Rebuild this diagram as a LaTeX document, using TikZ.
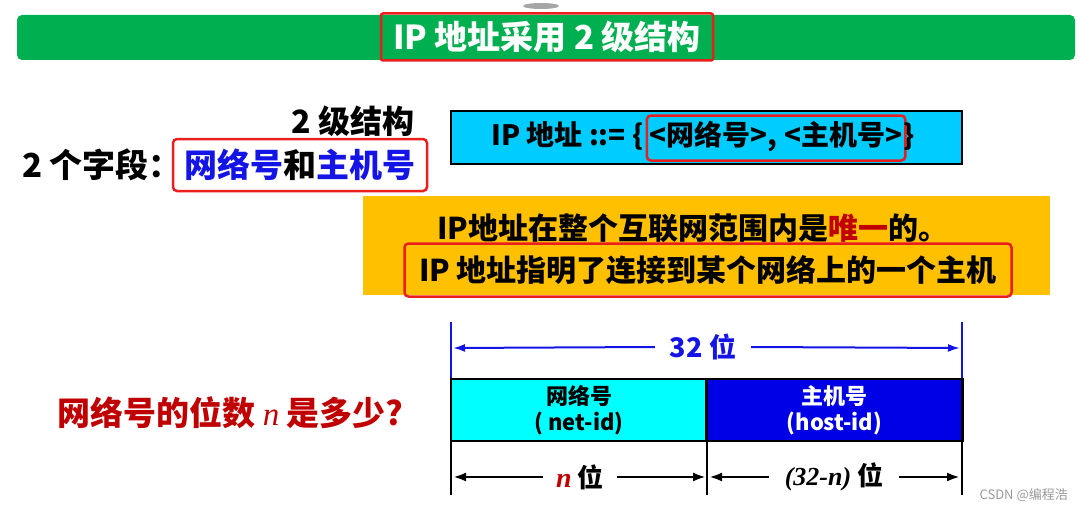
\documentclass[tikz,border=0pt]{standalone}
\usepackage{fontspec}
\setmainfont{Noto Sans CJK SC}
\newfontfamily\tnr{Liberation Serif}
\usetikzlibrary{arrows.meta,positioning}
\definecolor{titlegreen}{RGB}{0,176,80}
\definecolor{hired}{RGB}{235,30,30}
\definecolor{defcyan}{RGB}{0,204,255}
\definecolor{fieldcyan}{RGB}{0,255,255}
\definecolor{fieldblue}{RGB}{0,0,230}
\definecolor{notegold}{RGB}{255,192,0}
\definecolor{darkred}{RGB}{192,0,0}
\definecolor{textblue}{RGB}{20,20,230}
\tikzset{
  fs/.style={font=\fontsize{#1}{#1}\selectfont\bfseries},
  redbox/.style={draw=hired, line width=2.5pt, rounded corners=4pt},
  fieldbox/.style={draw=black, line width=2.5pt, minimum width=256pt, minimum height=62pt, align=center, inner sep=0pt, font=\fontsize{22}{29}\selectfont\bfseries},
  barr/.style={draw=textblue, line width=2pt, -{Latex[length=12pt,width=8pt]}},
  karr/.style={draw=black, line width=2.5pt, -{Latex[length=13pt,width=9pt]}},
  tick/.style={line width=2.5pt},
}
\begin{document}
\begin{tikzpicture}[x=1pt,y=-1pt]
\useasboundingbox (0,0) rectangle (1082,511);
% top artifact
\fill[gray!70] (541,6) ellipse [x radius=18pt, y radius=3pt];
% title bar
\fill[titlegreen, rounded corners=5pt] (17,15) rectangle (1075,60);
\node[redbox, rounded corners=2pt, fs=33, text=white, minimum width=332pt, minimum height=47pt, inner sep=0pt] (title) at (547,37) {IP 地址采用 2 级结构};
% left texts
\node[fs=32, anchor=east, inner sep=0pt] (lvl) at (415,121) {2 级结构};
\node[fs=33, anchor=west, inner sep=0pt] (two) at (22,165) {2 个字段：};
\node[redbox, fs=33, minimum width=254pt, minimum height=52pt, inner sep=0pt] (fields) at (300,165) {\textcolor{textblue}{网络号}和\textcolor{textblue}{主机号}};
% definition box
\fill[defcyan, draw=black, line width=2.5pt] (451,111) rectangle (962,164);
\node[fs=28, anchor=west, inner xsep=0pt, text height=21pt, text depth=6pt] (lhs) at (491,138) {IP 地址 ::= \{};
\node[redbox, fs=28, right=2pt of lhs, inner xsep=3pt, text height=21pt, text depth=6pt, minimum height=45pt] (parts) {<网络号>, <主机号>};
\node[fs=28, right=-3pt of parts, inner xsep=0pt, text height=21pt, text depth=6pt] (rb) {\}};
% note box
\fill[notegold] (363,196) rectangle (1050,295);
\node[fs=30, inner sep=0pt] (uniq) at (693,228) {IP地址在整个互联网范围内是\textcolor{darkred}{唯一}的。};
\node[redbox, fs=30, minimum width=607pt, minimum height=53pt, inner sep=0pt] (host) at (708,270) {IP 地址指明了连接到某个网络上的一个主机};
% question
\node[fs=33, anchor=west, text=darkred, inner sep=0pt] (q) at (57,413) {网络号的位数 {\tnr\mdseries\itshape n} 是多少?};
% 32-bit span
\coordinate (bl) at (451,348);
\coordinate (br) at (962,348);
\draw[textblue, tick] (451,322) -- (451,379);
\draw[textblue, tick] (962,322) -- (962,379);
\node[fs=27, text=textblue, inner xsep=15pt, inner ysep=0pt] (t32) at (703,347) {32 位};
\draw[barr] (t32.west) -- ([xshift=2pt]bl);
\draw[barr] (t32.east) -- ([xshift=-2pt]br);
% fields
\node[fieldbox, fill=fieldcyan] (net) at (579,410) {\raisebox{-3pt}{网络号}\\( net-id)};
\node[fieldbox, fill=fieldblue, text=white] (hst) at (834.5,410) {\raisebox{-3pt}{主机号}\\(host-id)};
% lower ticks
\coordinate (la) at (451,477);
\coordinate (lm) at (707,477);
\coordinate (lr) at (962,477);
\draw[tick] (451,441) -- (451,495);
\draw[tick] (707,441) -- (707,495);
\draw[tick] (962,441) -- (962,495);
\node[fs=26, inner xsep=13pt, inner ysep=0pt] (nbits) at (580,477) {{\tnr\fontsize{28}{28}\selectfont\itshape\textcolor{darkred}{n}} 位};
\node[fs=26, inner xsep=16pt, inner ysep=0pt] (hbits) at (834,477) {{\tnr\itshape (32-n)} 位};
\draw[karr] (nbits.west) -- ([xshift=2pt]la);
\draw[karr] (nbits.east) -- ([xshift=-1pt]lm);
\draw[karr] (hbits.west) -- ([xshift=2pt]lm);
\draw[karr] (hbits.east) -- ([xshift=-2pt]lr);
% watermark
\node[font=\fontsize{13}{15}\selectfont, text=gray!80, anchor=east, inner sep=0pt] (wm) at (1068,495) {CSDN @编程浩};
\end{tikzpicture}
\end{document}
